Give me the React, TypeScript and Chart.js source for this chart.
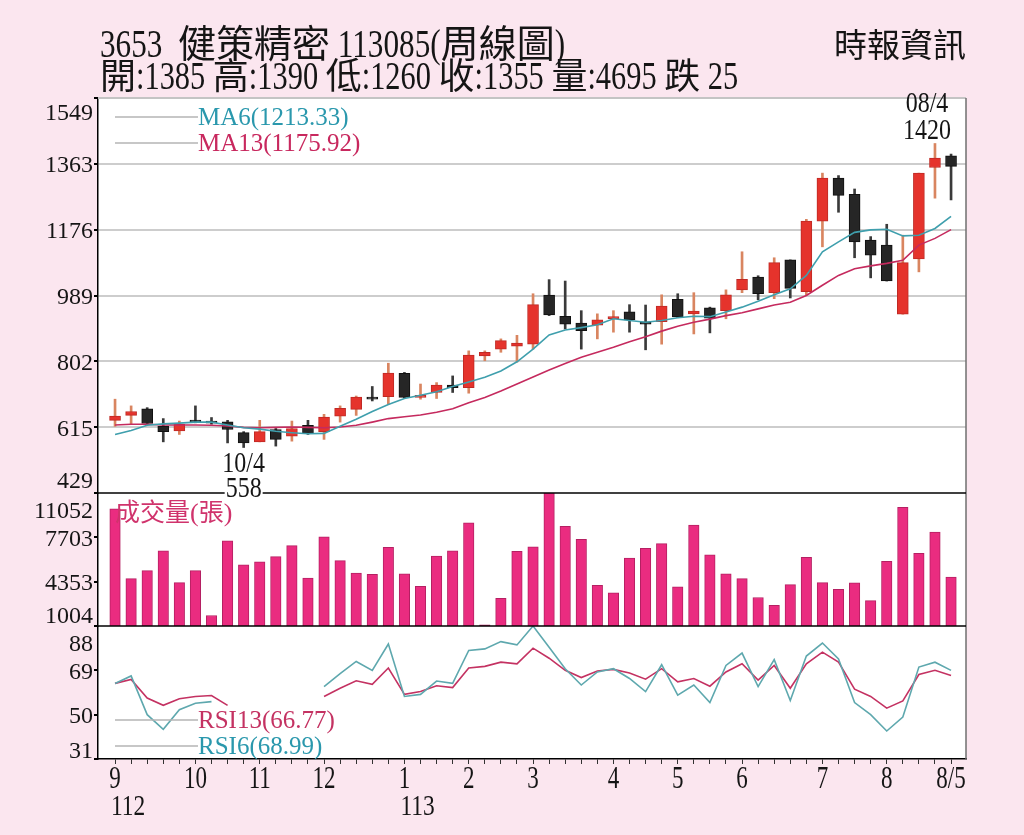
import React, { useEffect, useRef } from 'react';
import { Chart, registerables } from 'chart.js';

Chart.register(...registerables);

// ---------------- data ----------------
const opens = [635, 649, 668, 619, 605, 635, 630, 631, 600, 574, 609, 590, 621, 603, 647, 666, 701, 702, 768, 700, 714, 735, 728, 818, 837, 845, 851, 990, 930, 911, 905, 923, 943, 914, 915, 978, 937, 954, 946, 1005, 1041, 997, 1090, 1000, 1200, 1322, 1276, 1146, 1132, 936, 1093, 1352, 1385];
const highs = [695, 676, 671, 640, 633, 676, 643, 635, 603, 635, 612, 633, 635, 652, 676, 704, 731, 797, 771, 738, 742, 761, 832, 832, 866, 876, 994, 1034, 1030, 946, 937, 946, 963, 962, 991, 994, 997, 956, 1005, 1113, 1045, 1096, 1090, 1205, 1336, 1329, 1291, 1156, 1191, 1160, 1336, 1420, 1390];
const lows = [618, 624, 624, 574, 595, 628, 624, 571, 558, 574, 562, 576, 595, 581, 630, 649, 690, 681, 698, 695, 697, 714, 712, 804, 828, 800, 837, 932, 894, 837, 866, 885, 885, 835, 851, 926, 880, 883, 923, 997, 977, 980, 982, 990, 1127, 1225, 1096, 1039, 1030, 936, 1056, 1265, 1260];
const closes = [647, 660, 626, 603, 624, 630, 627, 609, 571, 603, 581, 612, 597, 644, 669, 701, 695, 769, 700, 704, 735, 728, 820, 828, 861, 854, 963, 934, 908, 889, 920, 929, 920, 908, 959, 928, 945, 925, 991, 1035, 994, 1082, 1009, 1200, 1322, 1273, 1141, 1103, 1030, 1082, 1336, 1379, 1355];
const volumes = [9860, 4580, 5190, 6680, 4280, 5190, 1800, 7430, 5620, 5860, 6240, 7080, 4630, 7750, 5940, 5000, 4900, 6940, 4950, 4000, 6290, 6680, 8800, 1100, 3090, 6640, 6980, 11500, 8540, 7550, 4080, 3510, 6140, 6880, 7230, 3960, 8620, 6380, 4950, 4580, 3160, 2570, 4130, 6190, 4280, 3780, 4260, 2920, 5890, 9960, 6490, 8100, 4695];
const ma6 = [595, 606, 621, 625, 627, 630, 630, 622, 614, 610, 604, 600, 597, 598, 618, 638, 660, 680, 697, 706, 716, 731, 744, 757, 775, 801, 837, 877, 891, 898, 906, 923, 918, 913, 918, 926, 930, 929, 942, 956, 973, 991, 1008, 1046, 1113, 1141, 1168, 1175, 1177, 1158, 1160, 1179, 1213.33];
const ma13 = [622, 624, 624, 622, 622, 622, 621, 619, 615, 614, 615, 616, 615, 614, 616, 621, 630, 640, 645, 650, 658, 668, 685, 700, 718, 738, 758, 778, 796, 814, 828, 842, 858, 872, 888, 902, 913, 922, 932, 940, 951, 962, 970, 989, 1018, 1046, 1065, 1073, 1080, 1089, 1132, 1151, 1175.92];
const rsi6 = [63.4, 66.6, 50.0, 43.7, 52.1, 54.9, 55.6, null, null, null, null, null, null, 62.0, 67.6, 72.8, 69.0, 80.3, 57.8, 58.7, 64.4, 63.4, 77.5, 78.2, 81.3, 79.9, 88.0, 78.9, 69.7, 62.7, 68.3, 69.7, 65.5, 59.9, 71.4, 58.4, 62.7, 55.2, 71.1, 76.4, 62.0, 73.6, 56.1, 75.1, 80.7, 73.9, 55.2, 50.0, 43.0, 49.0, 70.4, 72.5, 68.99];
const rsi13 = [63.4, 65.1, 57.1, 54.0, 56.8, 57.8, 58.2, 54.0, null, null, null, null, null, 57.8, 61.3, 64.5, 63.0, 70.0, 58.7, 59.9, 62.4, 61.6, 70.0, 70.7, 72.5, 71.8, 78.5, 74.2, 69.0, 65.9, 68.7, 69.4, 67.9, 65.2, 69.7, 64.1, 65.5, 62.2, 68.3, 71.8, 64.8, 71.1, 61.3, 71.8, 76.8, 72.5, 60.9, 57.8, 52.8, 55.9, 67.2, 69.0, 66.77];

const priceTicks = [429, 615, 802, 989, 1176, 1363, 1549];
const volumeTicks = [1004, 4353, 7703, 11052];
const rsiTicks = [31, 50, 69, 88];
const monthTickIndex = [0, 5, 9, 13, 18, 22, 26, 31, 35, 39, 44, 48, 52];
const monthTickLabels = ['9', '10', '11', '12', '1', '2', '3', '4', '5', '6', '7', '8', '8/5'];
const yearTickIndex = [0, 18];
const yearTickLabels = ['112', '113'];

const lowMarkIndex = 8;
const lowMarkDate = '10/4';
const lowMarkValue = 558;
const highMarkIndex = 51;
const highMarkDate = '08/4';
const highMarkValue = 1420;

const titleLine1 = '3653  健策精密 113085(周線圖)';
const titleLine2 = '開:1385 高:1390 低:1260 收:1355 量:4695 跌 25';
const sourceText = '時報資訊';
const ma6Label = 'MA6(1213.33)';
const ma13Label = 'MA13(1175.92)';
const volumeLabel = '成交量(張)';
const rsi13Label = 'RSI13(66.77)';
const rsi6Label = 'RSI6(68.99)';

// ---------------- styles ----------------
const PAGE_BG = '#fbe6ef';
const TEXT = '#151515';
const GRID = '#cdcdcd';
const LEGEND_LINE = '#b4b4b4';
const MA6_COLOR = '#3f9fad';
const MA13_COLOR = '#c52a5e';
const MA6_TEXT = '#2a98ad';
const MA13_TEXT = '#c8285e';
const RSI6_COLOR = '#5ea8ae';
const RSI13_COLOR = '#c43262';
const VOL_COLOR = '#ea2c80';
const VOL_BORDER = '#b52062';
const VOL_TEXT = '#d0336c';
const UP_COLOR = '#e5332c';
const UP_BORDER = '#bf2a24';
const UP_WICK = '#d98560';
const DOWN_COLOR = '#262626';
const DOWN_BORDER = '#111111';
const DOWN_WICK = '#3a3a3a';
const RIGHT_BORDER = '#6f6f6f';

const LATIN_FONT = '"Liberation Serif", "Noto Sans CJK TC", serif';
const CJK_FONT = '"Noto Sans CJK TC", "Liberation Serif", sans-serif';

const X_MIN = -1.06;
const X_MAX = 52.93;
const AXIS_W = 98;
const RIGHT_PAD = 58;

// ---------------- helpers ----------------
type Opt = {
  size: number;
  color: string;
  align?: 'left' | 'right' | 'center';
  baseline?: CanvasTextBaseline;
  sx?: number;
  cjkSize?: number;
  cjkSx?: number;
};

function runsOf(text: string) {
  const runs: { t: string; cjk: boolean }[] = [];
  for (const ch of text) {
    const cjk = ch.charCodeAt(0) >= 0x2e80;
    const last = runs[runs.length - 1];
    if (last && last.cjk === cjk) last.t += ch;
    else runs.push({ t: ch, cjk });
  }
  return runs;
}

function drawText(ctx: CanvasRenderingContext2D, text: string, x: number, y: number, o: Opt) {
  const runs = runsOf(text);
  ctx.save();
  ctx.fillStyle = o.color;
  ctx.textBaseline = o.baseline ?? 'alphabetic';
  ctx.textAlign = 'left';
  const fontOf = (cjk: boolean) => (cjk ? `${o.cjkSize ?? o.size}px ${CJK_FONT}` : `${o.size}px ${LATIN_FONT}`);
  const scaleOf = (cjk: boolean) => (cjk ? o.cjkSx ?? 1 : o.sx ?? 1);
  const widths = runs.map((r) => {
    ctx.font = fontOf(r.cjk);
    return ctx.measureText(r.t).width * scaleOf(r.cjk);
  });
  const total = widths.reduce((a, b) => a + b, 0);
  let cx = o.align === 'right' ? x - total : o.align === 'center' ? x - total / 2 : x;
  const left = cx;
  runs.forEach((r, i) => {
    ctx.font = fontOf(r.cjk);
    ctx.save();
    ctx.translate(cx, y);
    ctx.scale(scaleOf(r.cjk), 1);
    ctx.fillText(r.t, 0, 0);
    ctx.restore();
    cx += widths[i];
  });
  ctx.restore();
  return { left, width: total };
}

function line(ctx: CanvasRenderingContext2D, x1: number, y1: number, x2: number, y2: number, color: string, w: number) {
  ctx.save();
  ctx.strokeStyle = color;
  ctx.lineWidth = w;
  ctx.beginPath();
  ctx.moveTo(x1, y1);
  ctx.lineTo(x2, y2);
  ctx.stroke();
  ctx.restore();
}

const bgPlugin = {
  id: 'whiteArea',
  beforeDraw(chart: any) {
    const { ctx, chartArea: a } = chart;
    ctx.save();
    ctx.fillStyle = '#ffffff';
    ctx.fillRect(a.left, a.top, a.right - a.left, a.bottom - a.top);
    ctx.restore();
  },
};

function yLabelPlugin(ticks: number[], topBase: number, bottomBase: number) {
  return {
    id: 'yLabels',
    afterDraw(chart: any) {
      const { ctx, chartArea: a } = chart;
      const ys = chart.scales.y;
      ticks.forEach((v, i) => {
        let y: number;
        if (i === ticks.length - 1) y = a.top + topBase;
        else if (i === 0) y = a.bottom - bottomBase;
        else y = ys.getPixelForValue(v) + 8.5;
        drawText(ctx, String(v), a.left - 5, y, { size: 24, color: TEXT, align: 'right' });
      });
    },
  };
}

const idx = closes.map((_, i) => i);

const hiddenX = {
  type: 'linear',
  min: X_MIN,
  max: X_MAX,
  offset: false,
  display: false,
};

const fitY = (s: any) => {
  s.width = AXIS_W;
};

function yScale(min: number, max: number, ticks: number[], gridOnArea: boolean) {
  return {
    type: 'linear',
    min,
    max,
    afterFit: fitY,
    afterBuildTicks: (s: any) => {
      s.ticks = ticks.map((v) => ({ value: v }));
    },
    ticks: { display: false },
    grid: {
      drawOnChartArea: gridOnArea,
      color: (c: any) => (gridOnArea && c.index > 0 && c.index < ticks.length - 1 ? GRID : 'rgba(0,0,0,0)'),
      lineWidth: 2,
      tickColor: '#000',
      tickLength: 4,
      drawTicks: true,
    },
    border: { display: true, color: '#000', width: 1.5 },
  };
}

// ---------------- component ----------------
export default function App() {
  const priceRef = useRef<HTMLCanvasElement>(null);
  const volRef = useRef<HTMLCanvasElement>(null);
  const rsiRef = useRef<HTMLCanvasElement>(null);

  useEffect(() => {
    const charts: Chart[] = [];

    const priceDecor = {
      id: 'priceDecor',
      afterDraw(chart: any) {
        const { ctx, chartArea: a } = chart;
        const xs = chart.scales.x;
        const ys = chart.scales.y;
        // frame
        line(ctx, a.left, a.top, a.right, a.top, '#c4c4c4', 2);
        line(ctx, a.right, a.top, a.right, a.bottom, RIGHT_BORDER, 1.5);
        line(ctx, a.left, a.bottom, a.right, a.bottom, '#000', 1.5);
        // title
        drawText(ctx, titleLine1, 100, 57, { size: 40, sx: 0.78, cjkSize: 38, color: TEXT });
        drawText(ctx, titleLine2, 100, 89, { size: 40, sx: 0.76, cjkSize: 36, color: TEXT });
        drawText(ctx, sourceText, a.right, 57, { size: 33, cjkSize: 33, align: 'right', color: TEXT });
        // legends
        const l1 = a.top + 19;
        const l2 = a.top + 45;
        line(ctx, a.left + 17, l1, a.left + 100, l1, LEGEND_LINE, 1.5);
        line(ctx, a.left + 17, l2, a.left + 100, l2, LEGEND_LINE, 1.5);
        drawText(ctx, ma6Label, a.left + 100, l1 + 8, { size: 25, color: MA6_TEXT });
        drawText(ctx, ma13Label, a.left + 100, l2 + 8, { size: 25, color: MA13_TEXT });
        // low mark
        const lx = xs.getPixelForValue(lowMarkIndex);
        const ly = ys.getPixelForValue(lowMarkValue);
        drawText(ctx, lowMarkDate, lx, ly + 24, { size: 30, sx: 0.8, color: TEXT, align: 'center' });
        ctx.save();
        ctx.font = `30px ${LATIN_FONT}`;
        const w = ctx.measureText(String(lowMarkValue)).width * 0.8;
        ctx.fillStyle = '#ffffff';
        ctx.fillRect(lx - w / 2 - 1, a.bottom - 4, w + 2, 8);
        ctx.restore();
        drawText(ctx, String(lowMarkValue), lx, ly + 49, { size: 30, sx: 0.8, color: TEXT, align: 'center' });
        // high mark
        const hx = xs.getPixelForValue(highMarkIndex) - 8;
        const hy = ys.getPixelForValue(highMarkValue);
        drawText(ctx, highMarkDate, hx, hy - 31, { size: 30, sx: 0.8, color: TEXT, align: 'center' });
        drawText(ctx, String(highMarkValue), hx, hy - 4, { size: 30, sx: 0.8, color: TEXT, align: 'center' });
      },
    };

    const volDecor = {
      id: 'volDecor',
      afterDraw(chart: any) {
        const { ctx, chartArea: a } = chart;
        line(ctx, a.right, a.top, a.right, a.bottom, RIGHT_BORDER, 1.5);
        line(ctx, a.left, a.bottom, a.right, a.bottom, '#000', 1.5);
        drawText(ctx, volumeLabel, a.left + 17, a.top + 28, { size: 26, cjkSize: 25, color: VOL_TEXT });
      },
    };

    const rsiDecor = {
      id: 'rsiDecor',
      afterDraw(chart: any) {
        const { ctx, chartArea: a } = chart;
        const xs = chart.scales.x;
        line(ctx, a.right, a.top, a.right, a.bottom, RIGHT_BORDER, 1.5);
        const l1 = a.top + 94;
        const l2 = a.top + 120;
        line(ctx, a.left + 17, l1, a.left + 100, l1, LEGEND_LINE, 1.5);
        line(ctx, a.left + 17, l2, a.left + 100, l2, LEGEND_LINE, 1.5);
        drawText(ctx, rsi13Label, a.left + 100, l1 + 8, { size: 25, color: RSI13_COLOR });
        drawText(ctx, rsi6Label, a.left + 100, l2 + 8, { size: 25, color: MA6_TEXT });
        monthTickIndex.forEach((i, k) => {
          drawText(ctx, monthTickLabels[k], xs.getPixelForValue(i), a.bottom + 29, {
            size: 32,
            sx: 0.72,
            color: TEXT,
            align: 'center',
          });
        });
        yearTickIndex.forEach((i, k) => {
          drawText(ctx, yearTickLabels[k], xs.getPixelForValue(i) - 4, a.bottom + 56, {
            size: 30,
            sx: 0.78,
            color: TEXT,
          });
        });
      },
    };

    const isUp = idx.map((i) => closes[i] >= opens[i]);

    charts.push(
      new Chart(priceRef.current as HTMLCanvasElement, {
        type: 'bar',
        data: {
          datasets: [
            {
              type: 'line',
              data: idx.map((i) => ({ x: i, y: ma6[i] })),
              borderColor: MA6_COLOR,
              borderWidth: 1.6,
              pointRadius: 0,
              order: 0,
            },
            {
              type: 'line',
              data: idx.map((i) => ({ x: i, y: ma13[i] })),
              borderColor: MA13_COLOR,
              borderWidth: 1.6,
              pointRadius: 0,
              order: 1,
            },
            {
              type: 'bar',
              data: idx.map((i) => ({ x: i, y: [opens[i], closes[i]] })),
              backgroundColor: idx.map((i) => (isUp[i] ? UP_COLOR : DOWN_COLOR)),
              borderColor: idx.map((i) => (isUp[i] ? UP_BORDER : DOWN_BORDER)),
              borderWidth: 1,
              borderSkipped: false,
              barThickness: 11,
              minBarLength: 2,
              grouped: false,
              order: 2,
            },
            {
              type: 'bar',
              data: idx.map((i) => ({ x: i, y: [lows[i], highs[i]] })),
              backgroundColor: idx.map((i) => (isUp[i] ? UP_WICK : DOWN_WICK)),
              borderWidth: 0,
              barThickness: 2,
              grouped: false,
              order: 3,
            },
          ],
        } as any,
        options: {
          responsive: false,
          animation: false,
          events: [],
          layout: { padding: { top: 98, bottom: 17, left: 0, right: RIGHT_PAD } },
          plugins: { legend: { display: false }, tooltip: { enabled: false } },
          scales: {
            x: hiddenX,
            y: yScale(429, 1549, priceTicks, true),
          },
        } as any,
        plugins: [bgPlugin, yLabelPlugin(priceTicks, 22, 5), priceDecor] as any,
      })
    );

    charts.push(
      new Chart(volRef.current as HTMLCanvasElement, {
        type: 'bar',
        data: {
          datasets: [
            {
              data: idx.map((i) => ({ x: i, y: volumes[i] })),
              backgroundColor: VOL_COLOR,
              borderColor: VOL_BORDER,
              borderWidth: 1,
              barThickness: 10.5,
            },
          ],
        } as any,
        options: {
          responsive: false,
          animation: false,
          events: [],
          layout: { padding: { top: 13, bottom: 4, left: 0, right: RIGHT_PAD } },
          plugins: { legend: { display: false }, tooltip: { enabled: false } },
          scales: {
            x: hiddenX,
            y: yScale(1004, 11052, volumeTicks, false),
          },
        } as any,
        plugins: [bgPlugin, yLabelPlugin(volumeTicks, 25, 3), volDecor] as any,
      })
    );

    charts.push(
      new Chart(rsiRef.current as HTMLCanvasElement, {
        type: 'line',
        data: {
          datasets: [
            {
              data: idx.map((i) => ({ x: i, y: rsi6[i] })),
              borderColor: RSI6_COLOR,
              borderWidth: 1.6,
              pointRadius: 0,
              spanGaps: false,
            },
            {
              data: idx.map((i) => ({ x: i, y: rsi13[i] })),
              borderColor: RSI13_COLOR,
              borderWidth: 1.6,
              pointRadius: 0,
              spanGaps: false,
            },
          ],
        } as any,
        options: {
          responsive: false,
          animation: false,
          events: [],
          layout: { padding: { top: 6, bottom: 0, left: 0, right: RIGHT_PAD } },
          plugins: { legend: { display: false }, tooltip: { enabled: false } },
          scales: {
            x: {
              type: 'linear',
              min: X_MIN,
              max: X_MAX,
              offset: false,
              afterFit: (s: any) => {
                s.height = 76;
              },
              afterBuildTicks: (s: any) => {
                s.ticks = idx.map((i) => ({ value: i }));
              },
              ticks: { display: false, autoSkip: false },
              grid: { drawOnChartArea: false, color: 'rgba(0,0,0,0)', tickColor: '#333', tickLength: 5 },
              border: { display: true, color: '#000', width: 1.5 },
            },
            y: yScale(31, 88, rsiTicks, false),
          },
        } as any,
        plugins: [bgPlugin, yLabelPlugin(rsiTicks, 25, 1), rsiDecor] as any,
      })
    );

    return () => {
      charts.forEach((c) => c.destroy());
    };
  }, []);

  const canvasStyle = (top: number, h: number, z: number): React.CSSProperties => ({
    position: 'absolute',
    left: 0,
    top,
    width: 1024,
    height: h,
    zIndex: z,
  });

  return (
    <div
      style={{
        position: 'absolute',
        left: 0,
        top: 0,
        width: 1024,
        height: 835,
        background: PAGE_BG,
        overflow: 'hidden',
      }}
    >
      <canvas ref={rsiRef} width={1024} height={215} style={canvasStyle(620, 215, 1)} />
      <canvas ref={volRef} width={1024} height={150} style={canvasStyle(480, 150, 2)} />
      <canvas ref={priceRef} width={1024} height={510} style={canvasStyle(0, 510, 3)} />
    </div>
  );
}
